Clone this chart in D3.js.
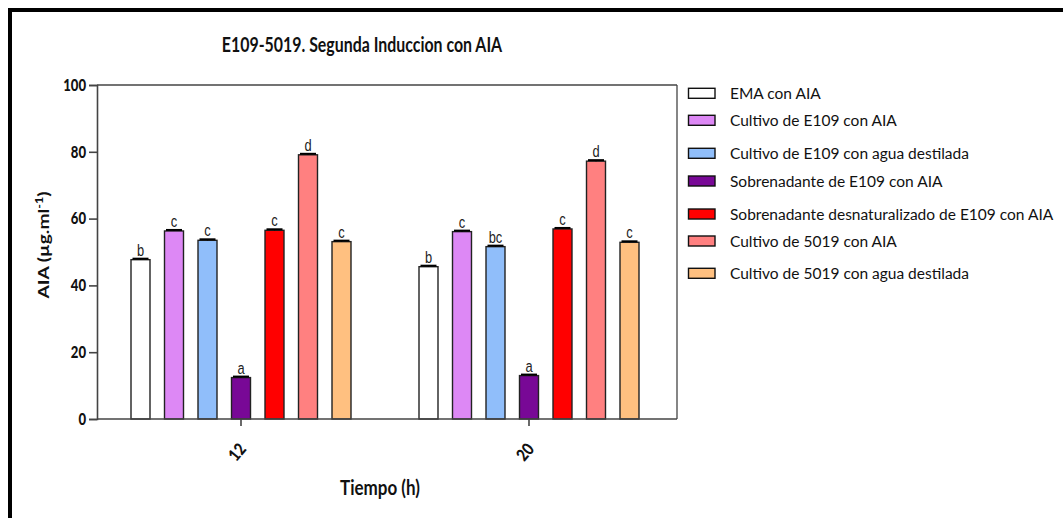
<!DOCTYPE html>
<html><head><meta charset="utf-8">
<script src="https://cdn.jsdelivr.net/npm/d3@7"></script>
<style>body{margin:0;background:#fff} svg{display:block}</style>
</head><body>
<svg id="c" width="1063" height="518"></svg>
<script>
const times = ["12", "20"];
const series = [
  "EMA con AIA",
  "Cultivo de E109 con AIA",
  "Cultivo de E109 con agua destilada",
  "Sobrenadante de E109 con AIA",
  "Sobrenadante desnaturalizado de E109 con AIA",
  "Cultivo de 5019 con AIA",
  "Cultivo de 5019 con agua destilada"
];
const seriesColors = ["#ffffff", "#dd88f5", "#90befa", "#780896", "#ff0000", "#ff8080", "#ffc080"];
const values12 = [47.7, 56.3, 53.5, 12.4, 56.5, 79.1, 53.1];
const values20 = [45.6, 56.1, 51.6, 13.0, 56.9, 77.2, 52.9];
const errors12 = [0.3, 0.3, 0.3, 0.3, 0.3, 0.3, 0.3];
const errors20 = [0.3, 0.3, 0.3, 0.3, 0.3, 0.3, 0.3];
const letters12 = ["b", "c", "c", "a", "c", "d", "c"];
const letters20 = ["b", "c", "bc", "a", "c", "d", "c"];
const yTicks = [0, 20, 40, 60, 80, 100];

const valuesByTime = {"12": values12, "20": values20};
const errorsByTime = {"12": errors12, "20": errors20};
const lettersByTime = {"12": letters12, "20": letters20};

const svg = d3.select("#c");
const axisColor = "#444";

// outer border (left + top)
svg.append("path").attr("d", "M10,518V10H1063").attr("fill", "none")
  .attr("stroke", "#000").attr("stroke-width", 4);

const plotL = 97, plotR = 677, plotT = 85, plotB = 419;
const y = d3.scaleLinear().domain([0, 100]).range([plotB, plotT]);
const x0 = d3.scaleBand().domain(times).range([plotL, 673]).paddingInner(0).paddingOuter(0);
const x1 = d3.scaleBand().domain(d3.range(series.length)).range([-117.25, 117.25])
  .paddingInner(0.433).paddingOuter(0.2165);

function txt(parent, x, yy, s, o) {
  const t = parent.append("text")
    .attr("transform", `translate(${x},${yy}) rotate(${o.rot || 0}) scale(${o.sx || 1},1)`)
    .attr("font-family", o.ff || "Lato")
    .attr("font-size", o.fs)
    .attr("font-weight", o.fw || "normal")
    .attr("text-anchor", o.anchor || "start")
    .attr("fill", o.fill || "#111");
  if (o.dy) t.attr("dy", o.dy);
  t.text(s);
  return t;
}

// bars
const gBars = svg.append("g");
times.forEach(tm => {
  const cx = x0(tm) + x0.bandwidth() / 2;
  const vals = valuesByTime[tm], errs = errorsByTime[tm], lets = lettersByTime[tm];
  series.forEach((s, i) => {
    const bx = cx + x1(i);
    const bw = x1.bandwidth();
    gBars.append("rect")
      .attr("x", bx).attr("y", y(vals[i]))
      .attr("width", bw).attr("height", y(0) - y(vals[i]))
      .attr("fill", seriesColors[i]).attr("stroke", "#222").attr("stroke-width", 1.4);
    const top = y(vals[i] + errs[i]);
    gBars.append("line").attr("x1", bx + bw / 2).attr("x2", bx + bw / 2)
      .attr("y1", y(vals[i])).attr("y2", top).attr("stroke", "#000").attr("stroke-width", 1.3);
    gBars.append("line").attr("x1", bx + 1.5).attr("x2", bx + bw - 1.5)
      .attr("y1", top).attr("y2", top).attr("stroke", "#000").attr("stroke-width", 2);
    txt(gBars, bx + bw / 2, top - 3, lets[i], {ff: "Liberation Sans", fs: 16.5, sx: 0.78, anchor: "middle", fill: "#222"});
  });
});

// frame top and right
svg.append("line").attr("x1", plotL).attr("x2", plotR).attr("y1", plotT).attr("y2", plotT)
  .attr("stroke", axisColor).attr("stroke-width", 1.3);
svg.append("line").attr("x1", plotR).attr("x2", plotR).attr("y1", plotT).attr("y2", plotB)
  .attr("stroke", axisColor).attr("stroke-width", 1.3);

// y axis
const gy = svg.append("g").attr("transform", `translate(${plotL},0)`)
  .call(d3.axisLeft(y).tickValues(yTicks).tickSize(8).tickFormat(""));
gy.selectAll("path,line").attr("stroke", axisColor).attr("stroke-width", 1.6);
yTicks.forEach(v => {
  txt(svg, 86, y(v), String(v), {fs: 16, fw: "900", sx: 0.82, anchor: "end", dy: "0.36em"});
});

// x axis
const gx = svg.append("g").attr("transform", `translate(0,${plotB})`)
  .call(d3.axisBottom(x0).tickSize(7).tickFormat("").tickSizeOuter(0));
gx.select("path").attr("d", `M${plotL},0H${plotR}`);
gx.selectAll("path,line").attr("stroke", axisColor).attr("stroke-width", 1.6);
times.forEach(tm => {
  const cx = x0(tm) + x0.bandwidth() / 2;
  txt(svg, cx - 4, 452, tm, {fs: 17, fw: "900", sx: 0.85, rot: -50, anchor: "middle", dy: "0.36em"});
});

// titles
txt(svg, 362, 51.5, "E109-5019. Segunda Induccion con AIA", {fs: 21.5, fw: "bold", sx: 0.74, anchor: "middle"});
txt(svg, 380, 495, "Tiempo (h)", {fs: 20, fw: "bold", sx: 0.85, anchor: "middle"});
const yt = svg.append("text")
  .attr("transform", "translate(49,245) rotate(-90) scale(1.2,1)")
  .attr("font-family", "Lato").attr("font-size", 16).attr("font-weight", "bold")
  .attr("text-anchor", "middle").attr("fill", "#111");
yt.append("tspan").text("AIA (µg.ml");
yt.append("tspan").attr("font-size", 10.5).attr("dy", -6).text("-1");
yt.append("tspan").attr("dy", 6).text(")");

// legend
const legendY = [93.3, 120.3, 153.3, 181, 214, 241, 273.3];
const gl = svg.append("g");
series.forEach((s, i) => {
  gl.append("rect").attr("x", 688.5).attr("y", legendY[i] - 5).attr("width", 26.5).attr("height", 10)
    .attr("fill", seriesColors[i]).attr("stroke", "#111").attr("stroke-width", 1.4);
  txt(gl, 730, legendY[i], s, {fs: 15.5, sx: 1.0, dy: "0.36em"});
});
</script>
</body></html>
